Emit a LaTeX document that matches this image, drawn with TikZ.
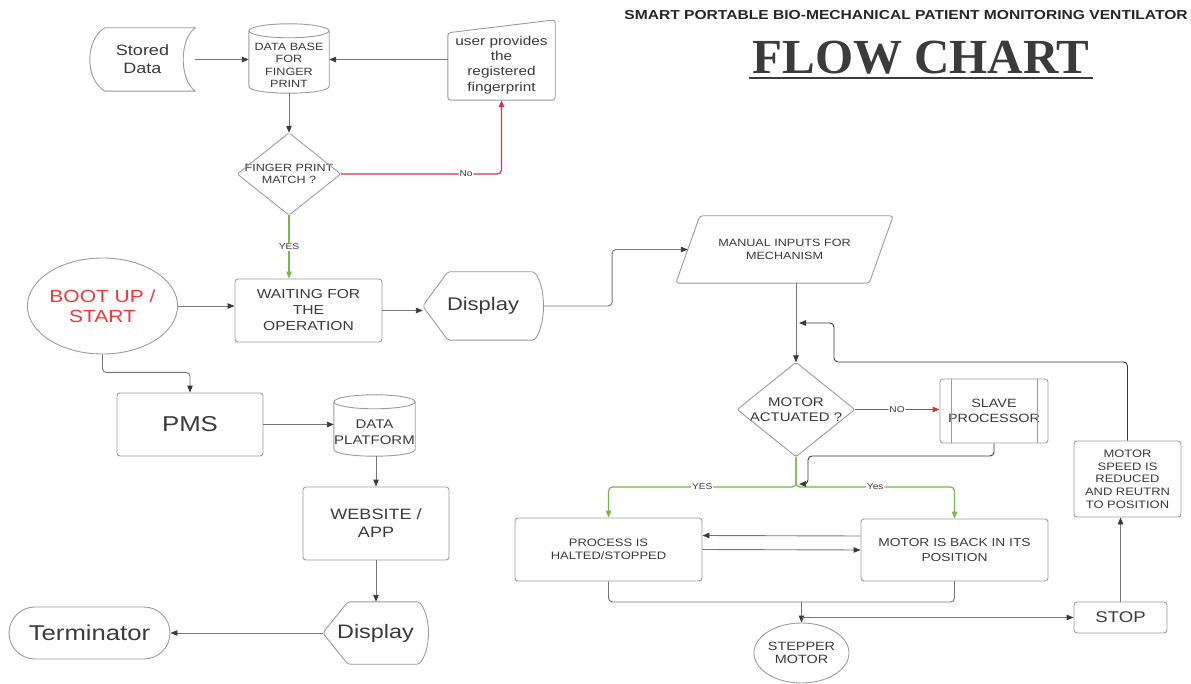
\documentclass[tikz,border=0pt]{standalone}
\usepackage{fontspec}
\setmainfont{Liberation Sans}[FakeStretch=1.2]
\newfontfamily\headserif{Liberation Serif}
\usetikzlibrary{shapes.geometric,shapes.misc,arrows.meta,calc}

\definecolor{boxgray}{HTML}{9C9C9C}
\definecolor{wiregray}{HTML}{767676}
\definecolor{wiredark}{HTML}{3A3A3A}
\definecolor{txtgray}{HTML}{3B3B3B}
\definecolor{nored}{HTML}{D2383F}
\definecolor{yesgreen}{HTML}{7AB648}
\definecolor{bootred}{HTML}{F2363A}

\newcommand{\fsz}[2]{\fontsize{#1}{#2}\selectfont}

\tikzset{
  txt/.style={text=txtgray, align=center, inner sep=0pt},
  shapeline/.style={draw=boxgray, line width=0.9pt, rounded corners=3pt},
  procbox/.style={txt, shapeline, rectangle},
  plain/.style={txt, draw=none, rectangle},
  wire/.style={draw=wiregray, line width=0.9pt, rounded corners=4pt},
  flow/.style={wire, -{Triangle[length=7pt,width=5.5pt,color=wiredark]}},
  flowdark/.style={flow, draw=wiredark},
  noflow/.style={wire, line width=1.2pt, draw=nored, -{Triangle[length=7pt,width=5.5pt,color=nored]}},
  yesflow/.style={wire, line width=1.2pt, draw=yesgreen, -{Triangle[length=7pt,width=5.5pt,color=yesgreen]}},
  lbl/.style={txt, fill=white, inner sep=1pt, font=\fsz{8.5}{10}}
}

\newcommand{\dispshape}[1]{%
  \draw[shapeline, rounded corners=2pt] (#1.west) -- ($(#1.north west)+(25,0)$) -- ($(#1.north east)+(-9,0)$)
    .. controls ($(#1.north east)+(3,16)$) and ($(#1.south east)+(3,-16)$) .. ($(#1.south east)+(-9,0)$)
    -- ($(#1.south west)+(25,0)$) -- cycle;}
\newcommand{\cylshape}[2]{%
  \draw[shapeline, sharp corners] ($(#1.north)+(0,-7)$) ellipse [x radius=#2, y radius=7];
  \draw[shapeline, sharp corners] ($(#1.north west)+(0,-7)$) -- ($(#1.south west)+(0,-7)$)
    .. controls ($(#1.south west)+(0,2.33)$) and ($(#1.south east)+(0,2.33)$) .. ($(#1.south east)+(0,-7)$)
    -- ($(#1.north east)+(0,-7)$);}
\newcommand{\diashape}[1]{%
  \draw[shapeline, rounded corners=2pt] (#1.north) -- (#1.east) -- (#1.south) -- (#1.west) -- cycle;}

\begin{document}
\begin{tikzpicture}[x=1pt, y=-1pt]
\useasboundingbox (0,0) rectangle (1191,684);
\fill[white] (0,0) rectangle (1191,684);

\node[txt, font=\bfseries\fsz{13}{14}, text=black!85] (title) at (906,15) {SMART PORTABLE BIO-MECHANICAL PATIENT MONITORING VENTILATOR};
\node[txt, font=\headserif\bfseries\fsz{49}{52}] (flowchart) at (921,58) {FLOW CHART};
\draw[txtgray, line width=2pt] ($(flowchart.south west)+(-3,3)$) -- ($(flowchart.south east)+(3,3)$);

\node[plain, minimum width=105pt, minimum height=63pt, font=\fsz{15}{18}] (stored) at (142.5,59.5) {Stored\\Data};
\node[plain, minimum width=80pt, minimum height=55pt, font=\fsz{10.5}{12.5}] (db) at (289,65.5) {DATA BASE\\FOR\\FINGER\\PRINT};
\node[plain, minimum width=107pt, minimum height=70pt, font=\fsz{12.8}{15.3}] (user) at (501.5,65) {user provides\\the\\registered\\fingerprint};
\node[plain, minimum width=103pt, minimum height=82pt, font=\fsz{10.5}{12.5}] (match) at (289,174) {FINGER PRINT\\MATCH ?};
\node[txt, shapeline, ellipse, minimum width=133pt, minimum height=96pt, text=bootred, font=\fsz{17.5}{20}] (boot) at (102.5,306) {BOOT UP /\\START};
\node[procbox, minimum width=147pt, minimum height=63pt, font=\fsz{13}{16}] (waiting) at (308.5,310.5) {WAITING FOR\\THE\\OPERATION};
\node[plain, minimum width=120pt, minimum height=68pt, font=\fsz{18.3}{20}] (disp1) at (483,306) {Display};
\node[plain, minimum width=217pt, minimum height=67pt, font=\fsz{10.5}{12.5}] (manual) at (784.5,249.5) {MANUAL INPUTS FOR\\MECHANISM};
\node[plain, minimum width=117pt, minimum height=94pt, font=\fsz{12.5}{15.5}] (act) at (796,409.5) {MOTOR\\ACTUATED ?};
\node[procbox, minimum width=108pt, minimum height=64pt, font=\fsz{12}{15}] (slave) at (994,411) {SLAVE\\PROCESSOR};
\node[procbox, minimum width=107pt, minimum height=76pt, font=\fsz{10.8}{12.7}] (speed) at (1127.5,479) {MOTOR\\SPEED IS\\REDUCED\\AND REUTRN\\TO POSITION};
\node[procbox, minimum width=187pt, minimum height=63pt, font=\fsz{10.8}{13.5}] (process) at (608.5,549.5) {PROCESS IS\\HALTED/STOPPED};
\node[procbox, minimum width=187pt, minimum height=62pt, font=\fsz{11.5}{14.5}] (back) at (954.5,550) {MOTOR IS BACK IN ITS\\POSITION};
\node[txt, shapeline, ellipse, minimum width=93pt, minimum height=60pt, font=\fsz{12}{13.7}] (stepper) at (801.5,653) {STEPPER\\MOTOR};
\node[procbox, minimum width=93pt, minimum height=31pt, font=\fsz{15.5}{18}] (stop) at (1120.5,617.5) {STOP};
\node[procbox, minimum width=146pt, minimum height=63pt, font=\fsz{21.5}{24}] (pms) at (190,424.5) {PMS};
\node[plain, minimum width=81pt, minimum height=47pt, font=\fsz{12.5}{16}] (platform) at (374.5,432.5) {DATA\\PLATFORM};
\node[procbox, minimum width=146pt, minimum height=73pt, font=\fsz{15}{18}] (website) at (376,523.5) {WEBSITE /\\APP};
\node[plain, minimum width=105pt, minimum height=62pt, font=\fsz{19.5}{22}] (disp2) at (375.5,633) {Display};
\node[txt, shapeline, sharp corners, rounded rectangle, minimum width=161pt, minimum height=52pt, font=\fsz{21.4}{24}] (term) at (89.5,633) {Terminator};

\draw[shapeline, sharp corners] ($(stored.north west)+(15,0)$) -- (stored.north east)
  .. controls ($(stored.north east)+(-16,12)$) and ($(stored.south east)+(-16,-12)$) .. (stored.south east)
  -- ($(stored.south west)+(15,0)$)
  .. controls ($(stored.south west)+(-5,-12)$) and ($(stored.north west)+(-5,12)$) .. ($(stored.north west)+(15,0)$) -- cycle;
\cylshape{db}{40}
\cylshape{platform}{40.5}
\draw[shapeline] (user.south west) -- ($(user.north west)+(0,3)$) -- ($(user.north east)+(0,-10)$) -- (user.south east) -- cycle;
\draw[shapeline] ($(manual.north west)+(24,0)$) -- (manual.north east) -- ($(manual.south east)+(-24,0)$) -- (manual.south west) -- cycle;
\diashape{match}
\diashape{act}
\dispshape{disp1}
\dispshape{disp2}
\draw[shapeline] ($(slave.north west)+(12,0)$) -- ($(slave.south west)+(12,0)$);
\draw[shapeline] ($(slave.north east)+(-11,0)$) -- ($(slave.south east)+(-11,0)$);

\coordinate (split) at (796,487);
\coordinate (merge) at (801.5,602);
\coordinate (loopin) at (799,323);

\draw[flow] (stored.east) -- (stored.east -| db.west);
\draw[flow] (user.west |- stored.east) -- (db.east |- stored.east);
\draw[flow] (db.south) -- (match.north);
\draw[noflow] (match.east) -| node[lbl, pos=0.39] {No} (user.south);
\draw[yesflow] (match.south) -- node[lbl] {YES} (match.south |- waiting.north);
\draw[flow] (boot.east) -- (boot.east -| waiting.west);
\draw[flow] (waiting.east) -- (waiting.east -| disp1.west);
\draw[flow] (disp1.east) -| ($(disp1.east)!0.52!(manual.west)$) |- ($(manual.west)+(12,0)$);
\draw[flow] (manual.south -| act.north) -- (act.north);
\draw[flowdark] (speed.north) |- (834,362) -- (834,323) -- (loopin);
\draw[noflow] (act.east) -- node[lbl] {NO} (act.east -| slave.west);
\draw[yesflow] (act.south) -- (split) -| node[lbl, pos=0.25] {YES} (process.north);
\draw[yesflow] (act.south) -- (split) -| node[lbl, pos=0.25] {Yes} (back.north);
\draw[flowdark] (slave.south) |- ($(split)+(12,-31)$) -- ($(split)+(12,-3)$) -- ($(split)+(3,-3)$);
\draw[flow] ($(back.west)+(0,-14)$) -- ($(process.east)+(0,-14)$);
\draw[flow] (process.east) -- (back.west);
\draw[wire] (process.south) |- (merge);
\draw[wire] (back.south) |- (merge);
\draw[flow] (merge) -- (stepper.north);
\draw[flow] (stepper.north |- stop.west) -- (stop.west);
\draw[flow] (stop.north) -- (stop.north |- speed.south);
\draw[flow] (boot.south) -- ++(0,18) -| (pms.north);
\draw[flow] (pms.east) -- (pms.east -| platform.west);
\draw[flow] (website.north |- platform.south) -- (website.north);
\draw[flow] (website.south) -- (website.south |- disp2.north);
\draw[flow] (disp2.west) -- (disp2.west -| term.east);
\end{tikzpicture}
\end{document}
